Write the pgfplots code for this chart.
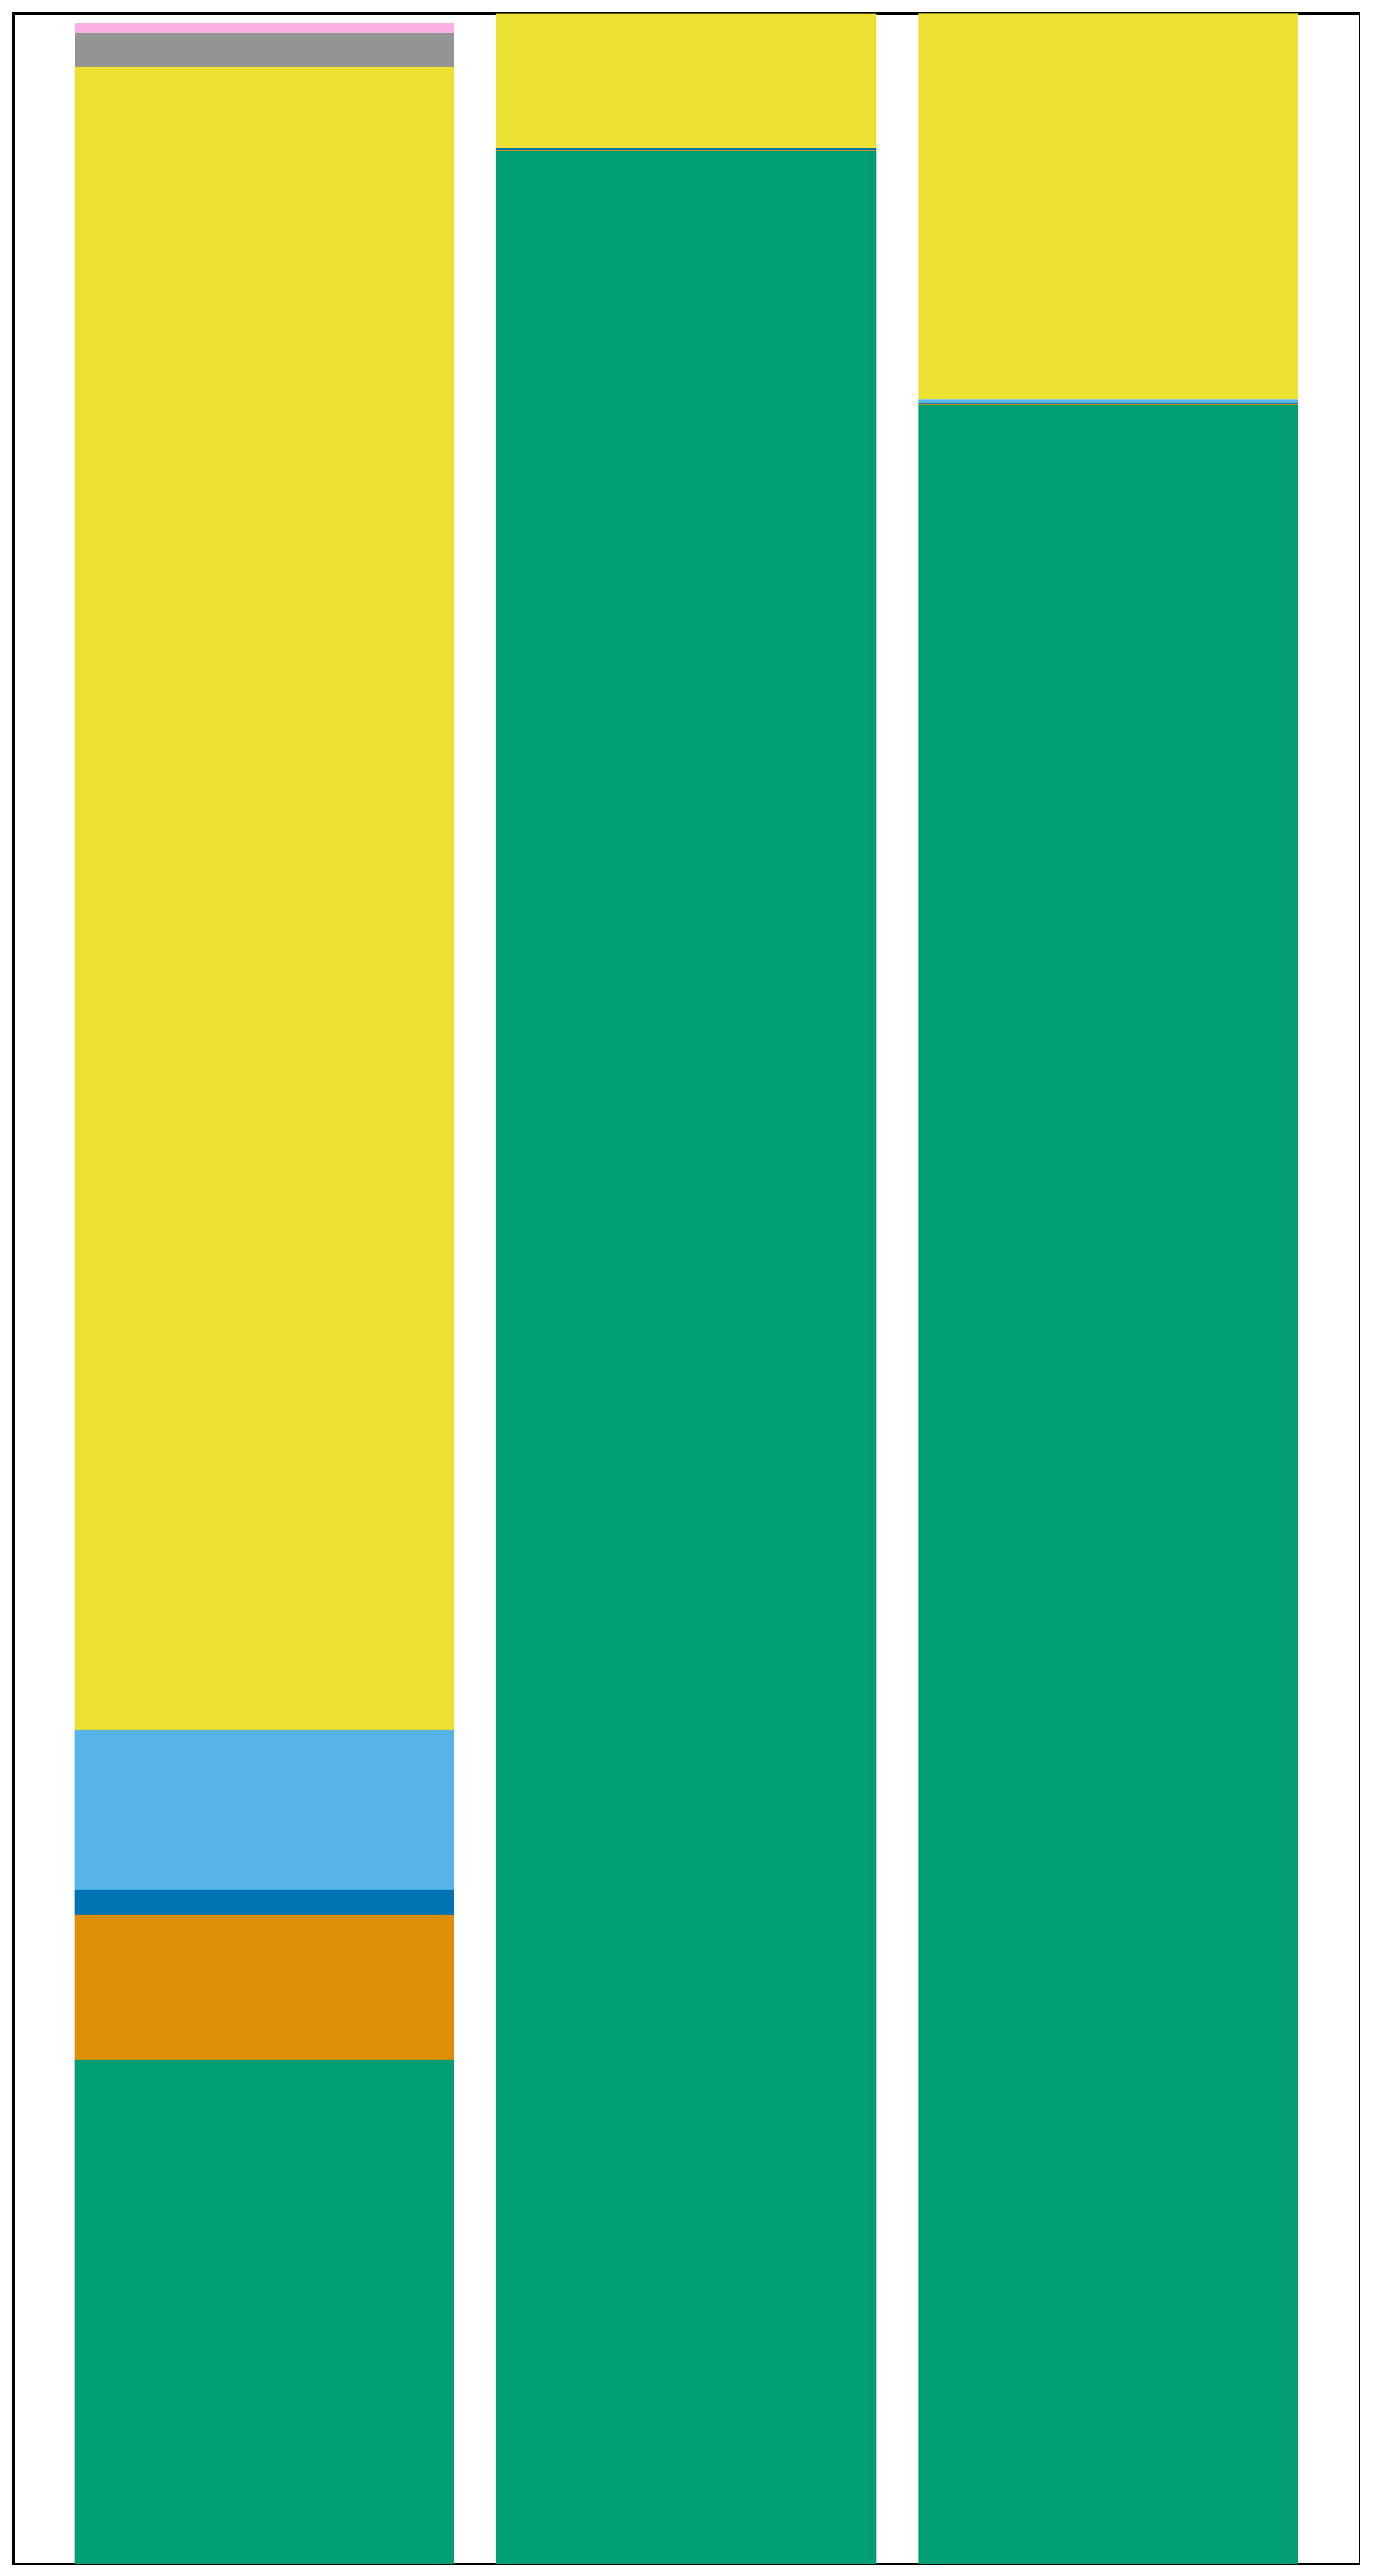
\documentclass[border=0pt]{standalone}
\usepackage{pgfplots}
\pgfplotsset{compat=1.18}
\usepackage{pgfplotstable}
\definecolor{cgreen}{HTML}{029E73}
\definecolor{corange}{HTML}{DE8F05}
\definecolor{cblue}{HTML}{0173B2}
\definecolor{clblue}{HTML}{56B4E9}
\definecolor{cyellow}{HTML}{ECE133}
\definecolor{cgray}{HTML}{949494}
\definecolor{cpink}{HTML}{FBAFE4}
\pgfplotstableread{
x green orange dblue lblue yellow gray pink
0 0.1976 0.0569 0.0098 0.0626 0.6520 0.0135 0.0037
1 0.9459 0.0003 0.0010 0.0000 0.0527 0.0000 0.0000
2 0.8463 0.0007 0.0002 0.0013 0.1515 0.0000 0.0000
}\data
\begin{document}
\begin{tikzpicture}
\begin{axis}[
  scale only axis,
  width=313.5pt, height=594.1pt,
  xmin=-0.595, xmax=2.595, ymin=0, ymax=1,
  ybar stacked, bar width=0.9,
  xtick=\empty, ytick=\empty,
  axis line style={line width=0.5pt},
  every axis plot/.append style={draw=none},
]
\addplot[fill=cgreen, draw=none] table[x=x,y=green]{\data};
\addplot[fill=corange, draw=none] table[x=x,y=orange]{\data};
\addplot[fill=cblue, draw=none] table[x=x,y=dblue]{\data};
\addplot[fill=clblue, draw=none] table[x=x,y=lblue]{\data};
\addplot[fill=cyellow, draw=none] table[x=x,y=yellow]{\data};
\addplot[fill=cgray, draw=none] table[x=x,y=gray]{\data};
\addplot[fill=cpink, draw=none] table[x=x,y=pink]{\data};
\end{axis}
\path (current axis.south west) ++(-3.06pt,-2.8pt) coordinate (bbA);
\path (current axis.north east) ++(3.4pt,3.06pt) coordinate (bbB);
\path[use as bounding box] (bbA) rectangle (bbB);
\end{tikzpicture}
\end{document}
